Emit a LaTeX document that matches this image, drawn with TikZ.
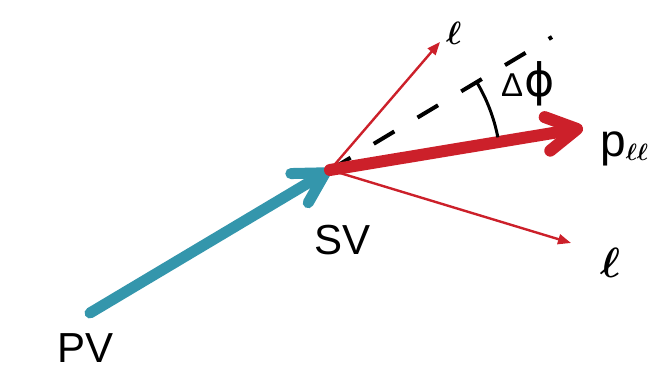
\documentclass[tikz,border=0pt]{standalone}
\usepackage{amsmath}
\usepackage{fontspec}
\setmainfont{Liberation Sans}
\newfontfamily\dejavu{DejaVu Sans}
\usetikzlibrary{arrows.meta}
\definecolor{tealc}{RGB}{52,150,172}
\definecolor{redc}{RGB}{204,32,42}
\newcommand\bigell[2]{\scalebox{#1}{\Huge$\boldsymbol{#2}$}}
\tikzset{
  thickarrow/.style={line width=11pt, line cap=round,
    -{Straight Barb[length=30pt,width=34pt,round]}},
  thinarrow/.style={line width=2.4pt, draw=redc,
    -{Triangle[length=13pt,width=10pt]}},
  lbl/.style={inner sep=0pt, anchor=base west, text=black},
  dashline/.style={line width=4pt, dash pattern=on 24pt off 27pt},
}
\begin{document}
\begin{tikzpicture}[x=1pt,y=1pt]
  \useasboundingbox (0,0) rectangle (662,371);
  \coordinate (sv) at (330,201);
  \coordinate (pv) at (90,58);
  \coordinate (lup) at (440,329);
  \coordinate (ldown) at (571,128);
  \coordinate (pll) at (583,243);
  \coordinate (dend) at (552,334);
  % thin lepton arrows
  \draw[thinarrow] (sv) -- (lup);
  \draw[thinarrow] (sv) -- (ldown);
  % dashed reference line
  \draw[dashline] (sv) -- (dend);
  % blue PV -> SV arrow
  \draw[thickarrow, draw=tealc] (pv) -- (sv);
  % thick red p_ll arrow
  \draw[thickarrow, draw=redc, line width=12pt] (sv) -- (pll);
  % angle arc
  \draw[line width=3pt] (sv) ++(30.9:171) arc[start angle=30.9, end angle=11, radius=171];
  % labels
  \node[lbl, font=\fontsize{42}{48}\selectfont] (svl) at (314,116) {SV};
  \node[lbl, font=\fontsize{42}{48}\selectfont] (pvl) at (57,8) {PV};
  \node[lbl, font=\fontsize{46}{52}\selectfont] (plab) at (600,214) {p\raisebox{-4pt}{\bigell{0.95}{\ell\ell}}};
  \node[lbl] (dphi) at (501,274) {\fontsize{33}{38}\selectfont Δ\kern1pt{\dejavu\fontsize{46}{50}\selectfont ϕ}};
  \node[lbl] (l1) at (446,326) {\bigell{1.3}{\ell}};
  \node[lbl] (l2) at (600,93) {\bigell{1.7}{\ell}};
\end{tikzpicture}
\end{document}
